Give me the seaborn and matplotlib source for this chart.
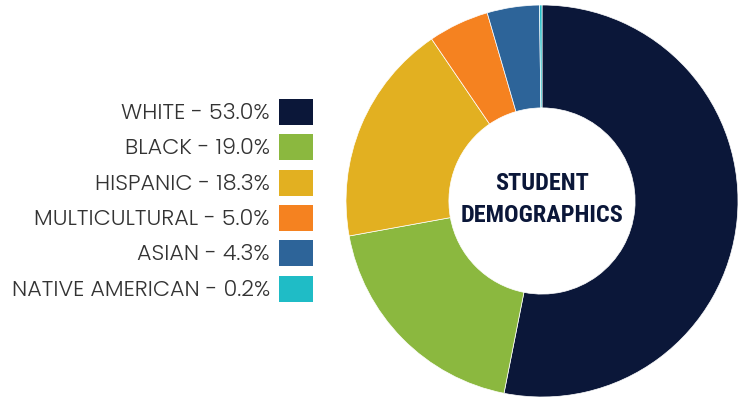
import matplotlib
matplotlib.use("Agg")
import matplotlib.pyplot as plt
import seaborn as sns
from matplotlib.patches import Rectangle

# data
groups = ["WHITE", "BLACK", "HISPANIC", "MULTICULTURAL", "ASIAN", "NATIVE AMERICAN"]
shares = [53.0, 19.0, 18.3, 5.0, 4.3, 0.2]
colors = ["#0B1739", "#8BB83F", "#E2B021", "#F58220", "#2D6499", "#1FBCC6"]

sns.set_theme(style="white")
palette = sns.color_palette(colors)

fig = plt.figure(figsize=(7.38, 4.0), dpi=100)
W, H = 738, 400

# donut axes: centre (542, 201), radius 196 px
cx, cy, r = 542, 201, 196
ax = fig.add_axes([(cx - r) / W, (H - cy - r) / H, 2 * r / W, 2 * r / H])
ax.pie(shares, colors=palette, startangle=90, counterclock=False, radius=1,
       wedgeprops=dict(width=0.525, edgecolor="white", linewidth=0.5))
ax.set_xlim(-1, 1)
ax.set_ylim(-1, 1)
ax.set_aspect("equal")
ax.axis("off")

ax.text(0, 0.01, "STUDENT\nDEMOGRAPHICS", ha="center", va="center",
        fontsize=17.5, fontweight="bold", color="#0B1739",
        family=["Roboto Condensed", "DejaVu Sans"], linespacing=1.5)

# legend, drawn by hand: right-aligned labels with colour squares
x_text = 270 / W
sq_x, sq_w, sq_h = 279, 34, 26
y0, step = 112, 35.3
for i, (g, s) in enumerate(zip(groups, shares)):
    yc = y0 + i * step
    fig.text(x_text, 1 - (yc + 2) / H, f"{g} - {s:.1f}%", ha="right", va="center",
             fontsize=16, color="#333333", family=["Poppins", "DejaVu Sans"],
             fontweight=300)
    fig.patches.append(Rectangle((sq_x / W, 1 - (yc + sq_h / 2) / H), sq_w / W, sq_h / H,
                                 transform=fig.transFigure, facecolor=palette[i],
                                 edgecolor="none"))

fig.savefig("out.png", dpi=100)
